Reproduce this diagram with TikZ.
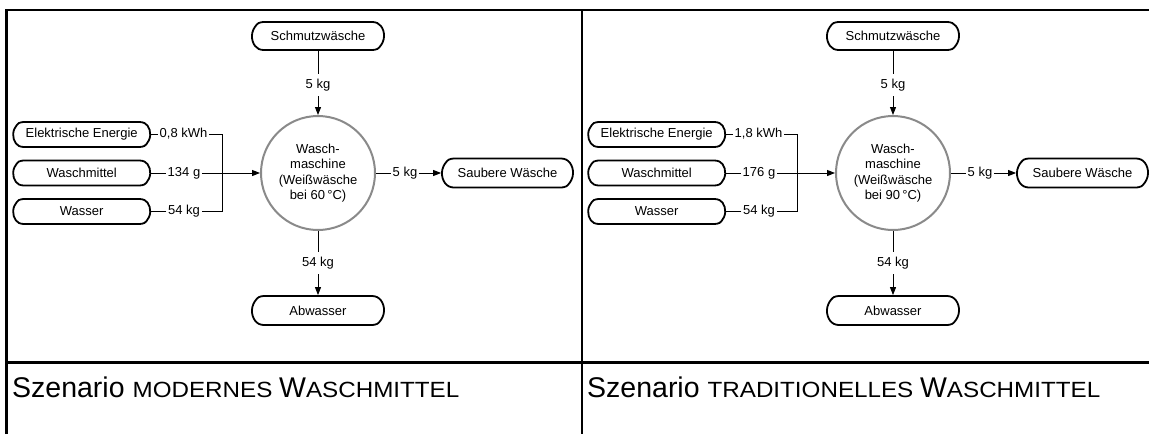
\documentclass[tikz,border=0pt]{standalone}
\usepackage{fontspec}
\setmainfont{Liberation Sans}
\newfontfamily\scfont[FakeStretch=1.1]{Liberation Sans}
\usetikzlibrary{shapes.misc,arrows.meta}
\definecolor{circgray}{RGB}{138,138,138}
\tikzset{
  frame/.style={line width=2.5pt},
  term/.style={draw, line width=1.8pt, rounded rectangle, rounded rectangle arc length=130,
    rounded corners=2.5pt, inner sep=0pt, minimum height=25pt, font=\fontsize{13}{15}\selectfont},
  proc/.style={circle, draw=circgray, line width=2pt, minimum size=114pt, inner sep=0pt,
    align=center, font=\fontsize{13}{15.5}\selectfont},
  lbl/.style={inner xsep=1.5pt, inner ysep=0pt, text height=9.5pt, text depth=3pt,
    font=\fontsize{13}{15}\selectfont},
  vlbl/.style={lbl, inner ysep=5pt},
  flow/.style={line width=1pt},
  arr/.style={flow, -{Triangle[length=8pt,width=6pt]}},
}
\newcommand\drawpanel[6]{%
  \node[term, minimum width=132pt, minimum height=28pt] (#1s) at (318,36) {Schmutzwäsche};
  \node[proc] (#1m) at (318,173) {Wasch-\\maschine\\(Weißwäsche\\bei #4\,°C)};
  \node[term, minimum width=137pt] (#1e) at (81.7,134.5) {Elektrische Energie};
  \node[term, minimum width=137pt] (#1w) at (81.7,173) {Waschmittel};
  \node[term, minimum width=137pt] (#1a) at (81.7,211.5) {Wasser};
  \node[term, minimum width=131pt, minimum height=29pt] (#1c) at (507.5,173) {Saubere Wäsche};
  \node[term, minimum width=132pt, minimum height=29pt] (#1b) at (318,310.5) {Abwasser};
  \node[vlbl] (#1l1) at (318,85) {5 kg};
  \node[lbl] (#1l2) at (183.5,134.5) {#2};
  \node[lbl] (#1l3) at (184,173) {#3};
  \node[lbl] (#1l4) at (184,211.5) {54 kg};
  \node[lbl] (#1l6) at (405,173) {5 kg};
  \node[vlbl] (#1l7) at (318,263) {54 kg};
  \coordinate (#1j1) at (222,134.5);
  \coordinate (#1j3) at (222,211.5);
  \draw[flow] (#1s.south) -- (#1l1.north);
  \draw[arr] (#1l1.south) -- (#1m.north);
  \draw[flow] (#1e.east) -- (#1l2.west);
  \draw[flow] (#1l2.east) -- (#1j1) -- (#1j3) -- (#1l4.east);
  \draw[flow] (#1l4.west) -- (#1a.east);
  \draw[flow] (#1w.east) -- (#1l3.west);
  \draw[arr] (#1l3.east) -- (#1m.west);
  \draw[flow] (#1m.east) -- (#1l6.west);
  \draw[arr] (#1l6.east) -- (#1c.west);
  \draw[flow] (#1m.south) -- (#1l7.north);
  \draw[arr] (#1l7.south) -- (#1b.north);
  \node[anchor=base west, inner sep=0pt, font=\fontsize{28.5}{30}\selectfont] (#1cap) at (12,397.3)
    {Szenario {\scfont\fontsize{22}{24}\selectfont #5 }W{\scfont\fontsize{22}{24}\selectfont #6}};
}
\begin{document}
\begin{tikzpicture}[x=1pt, y=-1pt]
  \useasboundingbox (0,0) rectangle (1149,434);
  \fill[white] (0,0) rectangle (1149,434);
  \draw[frame] (6.5,434) -- (6.5,10) -- (1149,10);
  \draw[frame] (6.5,362.7) -- (1149,362.7);
  \draw[frame] (582,10) -- (582,434);
  \drawpanel{l}{0,8 kWh}{134 g}{60}{MODERNES}{ASCHMITTEL}
  \begin{scope}[xshift=575pt]
    \drawpanel{r}{1,8 kWh}{176 g}{90}{TRADITIONELLES}{ASCHMITTEL}
  \end{scope}
\end{tikzpicture}
\end{document}
